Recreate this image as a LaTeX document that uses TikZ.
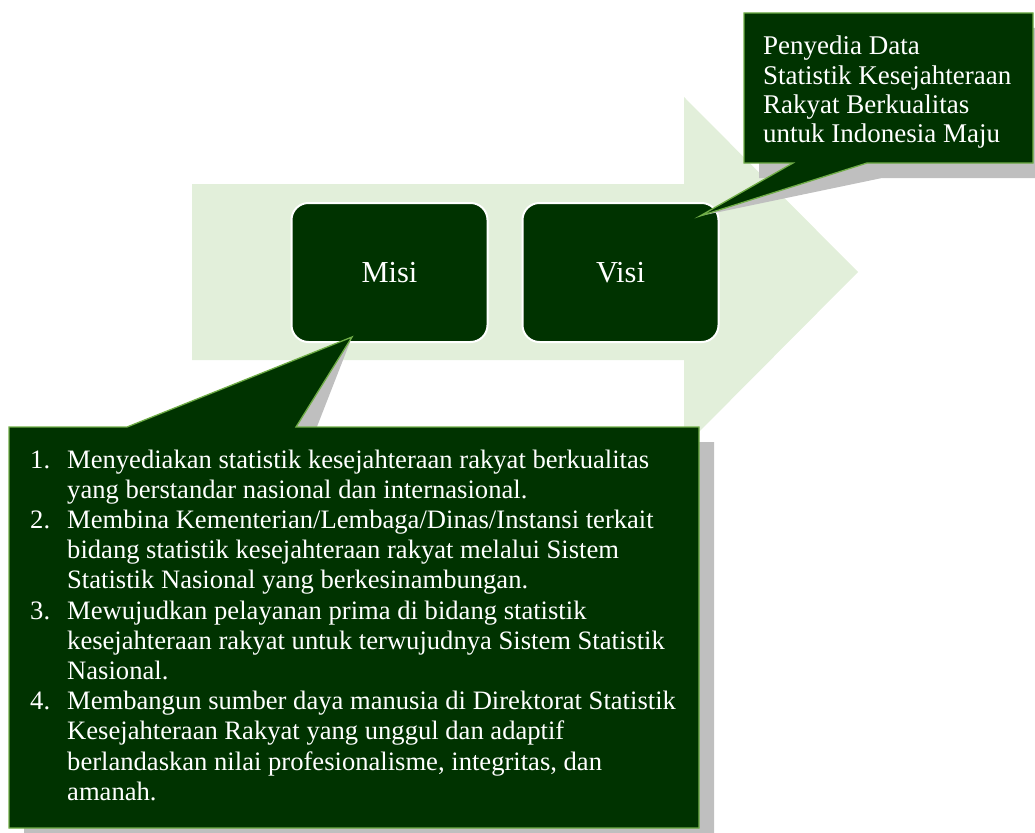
\documentclass[tikz,border=0pt]{standalone}
\usepackage{fontspec}
\setmainfont{Liberation Serif}
\definecolor{darkg}{RGB}{0,51,0}
\definecolor{lightg}{RGB}{226,239,218}
\definecolor{edgeg}{RGB}{112,173,71}
\definecolor{shadowc}{RGB}{191,191,191}
\begin{document}
\begin{tikzpicture}[x=1pt,y=-1pt,
  boxstyle/.style={draw=white, line width=2pt, fill=darkg, rounded corners=17pt,
    minimum width=196pt, minimum height=139pt, inner sep=0pt, text=white,
    font=\fontsize{30.5}{34}\selectfont},
  callout/.style={draw=edgeg, line width=1.3pt, fill=darkg, line join=miter},
  shade/.style={fill=shadowc},
  txt/.style={text=white, inner sep=0pt, anchor=base west}]
\useasboundingbox (0,0) rectangle (1035,832);
\clip (0,0) rectangle (1035,832);
% background arrow
\fill[lightg] (192,184) -- (684,184) -- (684,97) -- (858,272) -- (684,447) -- (684,360) -- (192,360) -- cycle;
% Misi / Visi
\node[boxstyle] (misi) at (389.5,272.5) {Misi};
\node[boxstyle] (visi) at (620.5,272.5) {Visi};
% tips of callouts
\coordinate (misitip) at (352,337);
\coordinate (visitip) at (700,216);
% shadows
\begin{scope}[shift={(15,15)}]
  \fill[shade] (744,13) -- (1033,13) -- (1033,163) -- (867,163) -- (visitip) -- (793,163) -- (744,163) -- cycle;
  \fill[shade] (9,427) -- (127,427) -- (misitip) -- (296,427) -- (699,427) -- (699,828) -- (9,828) -- cycle;
\end{scope}
% callouts
\draw[callout] (744,13) -- (1033,13) -- (1033,163) -- (867,163) -- (visitip) -- (793,163) -- (744,163) -- cycle;
\draw[callout] (9,427) -- (127,427) -- (misitip) -- (296,427) -- (699,427) -- (699,828) -- (9,828) -- cycle;
% callout texts
\node[txt, font=\fontsize{27}{29.3}\selectfont] (visitext) at (763,55)
  {\begin{tabular}[t]{@{}l@{}}Penyedia Data\\ Statistik Kesejahteraan\\ Rakyat Berkualitas\\ untuk Indonesia Maju\end{tabular}};
\node[txt, font=\fontsize{26.6}{30.2}\selectfont] (misitext) at (30,468)
  {\begin{tabular}[t]{@{}l@{}l@{}}
  \makebox[37pt][l]{1.} & Menyediakan statistik kesejahteraan rakyat berkualitas\\
   & yang berstandar nasional dan internasional.\\
  \makebox[37pt][l]{2.} & Membina Kementerian/Lembaga/Dinas/Instansi terkait\\
   & bidang statistik kesejahteraan rakyat melalui Sistem\\
   & Statistik Nasional yang berkesinambungan.\\
  \makebox[37pt][l]{3.} & Mewujudkan pelayanan prima di bidang statistik\\
   & kesejahteraan rakyat untuk terwujudnya Sistem Statistik\\
   & Nasional.\\
  \makebox[37pt][l]{4.} & Membangun sumber daya manusia di Direktorat Statistik\\
   & Kesejahteraan Rakyat yang unggul dan adaptif\\
   & berlandaskan nilai profesionalisme, integritas, dan\\
   & amanah.
  \end{tabular}};
\end{tikzpicture}
\end{document}
